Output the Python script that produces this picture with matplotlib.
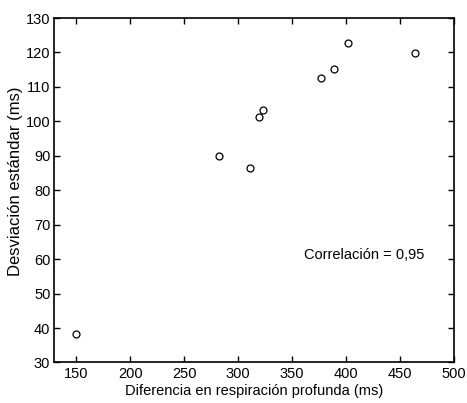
import matplotlib
matplotlib.use("Agg")
import matplotlib.pyplot as plt

plt.rcParams['font.family'] = ['Liberation Sans', 'DejaVu Sans']

diff_resp = [150, 282, 311, 319, 323.5, 377, 389, 402, 464]
desv_std = [38.3, 90, 86.6, 101.4, 103.3, 112.5, 115.1, 122.8, 119.8]

xticks = [150, 200, 250, 300, 350, 400, 450, 500]
yticks = [30, 40, 50, 60, 70, 80, 90, 100, 110, 120, 130]

fig = plt.figure(figsize=(4.67, 4.03), dpi=100)
ax = fig.add_axes([0.1167, 0.1005, 0.8555, 0.8548])
ax.plot(diff_resp, desv_std, linestyle='none', marker='o', markersize=5,
        markerfacecolor='none', markeredgecolor='black', markeredgewidth=0.9)
ax.set_xlim(130, 500)
ax.set_ylim(30, 130)
ax.set_xticks(xticks)
ax.set_yticks(yticks)
ax.tick_params(direction='in', length=4, width=1, top=True, right=True,
               labelsize=10.5, pad=3)
for s in ax.spines.values():
    s.set_linewidth(1.2)
ax.set_xlabel('Diferencia en respiración profunda (ms)', fontsize=10.5)
ax.xaxis.set_label_coords(0.5, -0.062)
ax.set_ylabel('Desviación estándar (ms)', fontsize=12)
ax.yaxis.set_label_coords(-0.078, 0.526)
ax.text(416.5, 61.3, 'Correlación = 0,95', fontsize=10.5, ha='center', va='center')
fig.savefig('out.png', dpi=100)
